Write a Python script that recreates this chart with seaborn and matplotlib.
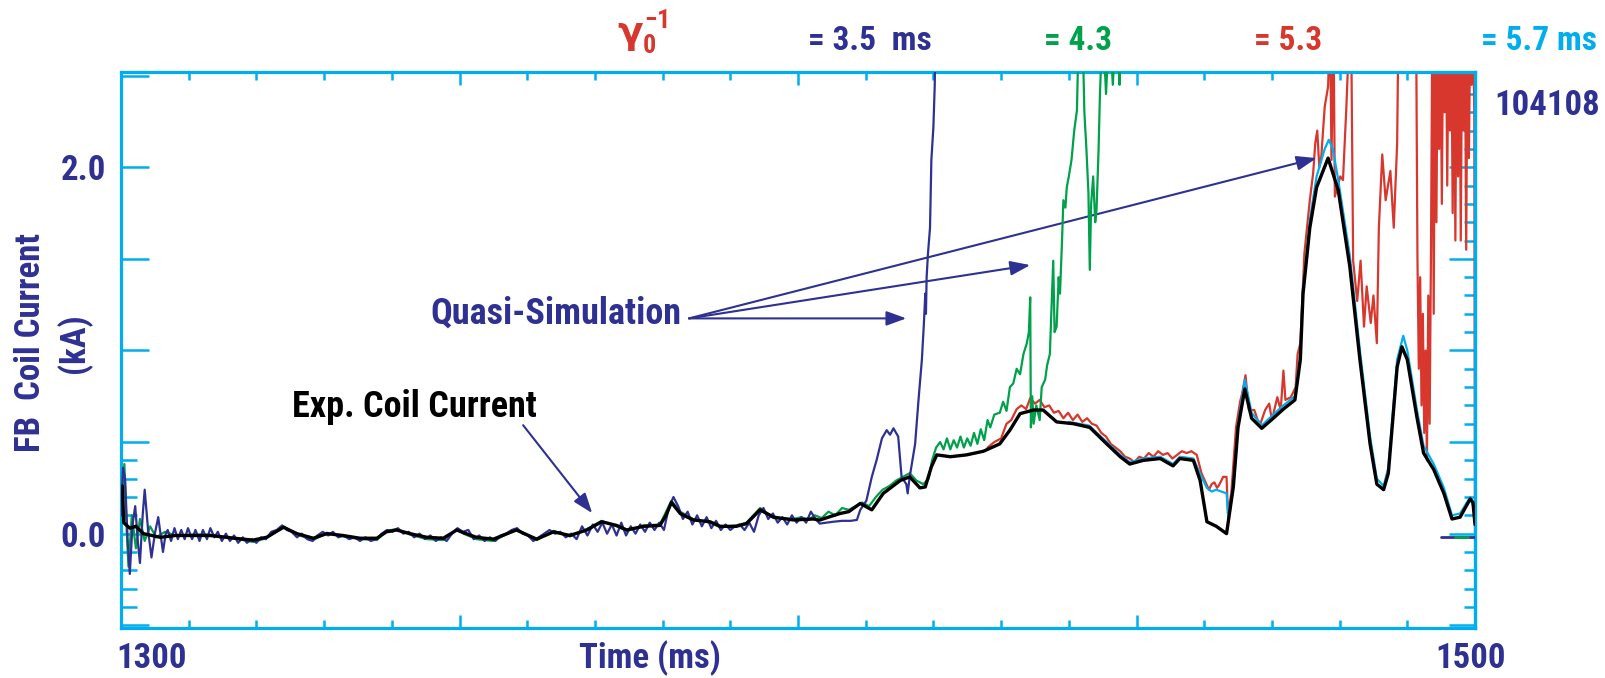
import numpy as np
import pandas as pd
import matplotlib
matplotlib.use("Agg")
import matplotlib.pyplot as plt
from matplotlib.ticker import FixedLocator, MultipleLocator, NullFormatter
import matplotlib.transforms as mtransforms
import seaborn as sns

# ---------------- data ----------------
# Experimental FB coil current (black)
t_exp = [1300.0, 1300.2, 1300.4, 1301.3, 1302.2, 1303.3, 1305.8, 1308.0, 1310.6, 1313.1,
         1315.6, 1318.0, 1319.5, 1321.5, 1324.0, 1326.0, 1328.4, 1330.4, 1332.8, 1335.3,
         1337.8, 1339.2, 1340.7, 1342.7, 1345.2, 1347.6, 1349.6, 1350.6, 1352.5, 1355.0,
         1358.4, 1361.4, 1363.9, 1366.3, 1368.8, 1371.0, 1373.2, 1374.7, 1377.2, 1379.6,
         1380.5, 1381.3, 1382.6, 1384.5, 1387.0, 1388.5, 1390.9, 1392.4, 1394.4, 1396.4,
         1399.3, 1402.3, 1403.2, 1404.5, 1406.2, 1407.5, 1409.2, 1410.9, 1412.6, 1415.1,
         1416.5, 1418.0, 1418.8, 1419.7, 1420.5, 1422.5, 1424.9, 1427.4, 1429.8, 1431.3,
         1432.8, 1434.8, 1436.2, 1438.2, 1440.7, 1443.1, 1445.6, 1447.6, 1449.0, 1451.0,
         1453.5, 1455.4, 1456.4, 1458.4, 1459.4, 1460.4, 1461.8, 1463.3, 1464.3, 1465.0,
         1466.0, 1467.0, 1468.5, 1470.2, 1471.7, 1473.4, 1474.2, 1474.6, 1475.6, 1476.6,
         1478.3, 1479.8, 1481.5, 1483.0, 1484.5, 1485.5, 1486.5, 1487.2, 1488.5, 1489.2,
         1490.0, 1491.4, 1492.4, 1493.9, 1495.4, 1496.6, 1497.8, 1499.3, 1499.7, 1500.0]
i_exp = [0.20, 0.26, 0.06, 0.03, 0.04, 0.00, -0.02, -0.01, -0.01, -0.01,
         -0.02, -0.03, -0.035, -0.02, 0.035, 0.00, -0.025, 0.00, -0.01, -0.025,
         -0.025, 0.01, 0.02, 0.00, -0.02, -0.025, 0.02, 0.005, -0.02, -0.03,
         0.02, -0.03, 0.01, -0.01, 0.02, 0.065, 0.045, 0.02, 0.04, 0.045,
         0.10, 0.17, 0.11, 0.075, 0.065, 0.04, 0.04, 0.055, 0.13, 0.09,
         0.075, 0.08, 0.074, 0.09, 0.11, 0.12, 0.165, 0.13, 0.22, 0.29,
         0.31, 0.25, 0.255, 0.365, 0.43, 0.42, 0.43, 0.45, 0.49, 0.565,
         0.655, 0.675, 0.675, 0.61, 0.60, 0.58, 0.49, 0.42, 0.38, 0.40,
         0.41, 0.37, 0.41, 0.40, 0.29, 0.065, 0.04, 0.00, 0.255, 0.58,
         0.79, 0.63, 0.575, 0.63, 0.68, 0.73, 0.95, 1.31, 1.67, 1.89,
         2.05, 1.875, 1.46, 0.95, 0.49, 0.27, 0.24, 0.33, 0.91, 1.02,
         0.95, 0.64, 0.44, 0.35, 0.22, 0.08, 0.09, 0.19, 0.17, 0.05]

# Quasi-simulation, 1/gamma0 = 3.5 ms (navy)
t_35 = [1300.0, 1300.3, 1300.6, 1301.0, 1301.3, 1301.7, 1302.1, 1302.5, 1302.8, 1303.2,
        1303.5, 1304.0, 1304.5, 1305.0, 1305.5, 1305.9, 1306.2, 1306.6, 1306.9, 1307.4,
        1307.9, 1308.4, 1308.9, 1309.4, 1309.9, 1310.5, 1311.0, 1311.6, 1312.1, 1312.7,
        1313.2, 1313.8, 1314.3, 1314.9, 1315.5, 1316.1, 1316.7, 1317.3, 1318.0, 1318.6,
        1319.3, 1320.0, 1320.7, 1321.4, 1322.2, 1323.0, 1323.8, 1324.5, 1325.2, 1326.0,
        1326.7, 1327.5, 1328.3, 1329.0, 1329.8, 1330.6, 1331.3, 1332.1, 1332.9, 1333.7,
        1334.5, 1335.3, 1336.1, 1336.9, 1337.7, 1338.5, 1339.3, 1340.1, 1340.9, 1341.7,
        1342.5, 1343.3, 1344.1, 1344.9, 1345.7, 1346.5, 1347.3, 1348.1, 1348.9, 1349.7,
        1350.5, 1351.3, 1352.1, 1352.9, 1353.7, 1354.5, 1355.3, 1356.1, 1356.9, 1357.7,
        1358.5, 1359.3, 1360.1, 1360.9, 1361.7, 1362.5, 1363.3, 1364.1, 1364.9, 1365.7,
        1366.5, 1367.3, 1368.1, 1368.9, 1369.7, 1370.4, 1371.1, 1371.8, 1372.5, 1373.2,
        1373.9, 1374.6, 1375.3, 1376.0, 1376.7, 1377.4, 1378.1, 1378.8, 1379.5, 1380.2,
        1380.9, 1381.6, 1382.3, 1383.0, 1383.7, 1384.4, 1385.1, 1385.8, 1386.5, 1387.2,
        1387.9, 1388.6, 1389.3, 1390.0, 1390.7, 1391.4, 1392.1, 1392.8, 1393.5, 1394.2,
        1394.9, 1395.6, 1396.3, 1397.0, 1397.7, 1398.4, 1399.1, 1399.8, 1400.5, 1401.2,
        1401.9, 1402.6, 1403.2, 1404.2, 1405.2, 1406.5, 1407.8, 1408.7, 1409.2, 1410.1,
        1410.9, 1411.6, 1412.4, 1413.1, 1413.6, 1414.1, 1414.8, 1415.3, 1416.0, 1416.2,
        1416.5, 1417.3, 1417.8, 1418.3, 1418.6, 1418.8, 1418.9, 1419.0, 1419.2, 1419.5,
        1419.7, 1420.0, 1420.2, 1420.3]
i_35 = [0.10, 0.36, 0.30, -0.05, -0.22, 0.05, 0.15, -0.05, -0.16, 0.10,
        0.24, 0.02, -0.13, 0.00, 0.09, -0.02, -0.10, 0.00, 0.02, -0.04,
        0.03, -0.03, 0.02, -0.03, 0.03, -0.03, 0.02, -0.04, 0.02, -0.03,
        0.03, -0.02, 0.01, -0.04, 0.00, -0.04, -0.01, -0.05, -0.02, -0.05,
        -0.03, -0.05, -0.02, -0.03, 0.01, 0.02, 0.045, 0.02, 0.01, -0.02,
        0.00, -0.03, -0.04, -0.01, 0.01, -0.01, 0.01, -0.02, -0.01, -0.03,
        -0.02, -0.04, -0.02, -0.04, -0.03, 0.00, 0.02, 0.01, 0.03, 0.00,
        0.01, -0.02, 0.00, -0.03, -0.01, -0.04, -0.02, -0.04, 0.00, 0.03,
        0.01, 0.02, -0.03, -0.01, -0.04, -0.02, -0.04, -0.01, 0.00, 0.02,
        0.03, 0.00, -0.01, -0.04, -0.02, 0.00, 0.02, 0.00, 0.01, -0.02,
        0.00, -0.03, 0.04, -0.01, 0.05, 0.01, 0.06, 0.00, 0.05, -0.01,
        0.06, -0.01, 0.04, 0.00, 0.05, 0.01, 0.06, 0.02, 0.06, 0.02,
        0.14, 0.20, 0.15, 0.08, 0.12, 0.05, 0.10, 0.04, 0.09, 0.03,
        0.07, 0.02, 0.05, 0.02, 0.04, 0.05, 0.02, 0.06, 0.01, 0.10,
        0.14, 0.08, 0.11, 0.06, 0.09, 0.05, 0.10, 0.06, 0.09, 0.06,
        0.12, 0.08, 0.055, 0.06, 0.065, 0.07, 0.07, 0.075, 0.13, 0.18,
        0.31, 0.40, 0.52, 0.565, 0.54, 0.575, 0.53, 0.31, 0.27, 0.22,
        0.31, 0.49, 0.73, 0.95, 1.15, 1.31, 1.20, 1.40, 1.53, 1.67,
        2.04, 2.22, 2.45, 2.80]
# stored tail of the 3.5 ms run (flat at zero near 1500 ms)
t_35_tail = [1495.0, 1500.0]
i_35_tail = [-0.017, -0.017]

# Quasi-simulation, 1/gamma0 = 4.3 ms (green)
t_43 = [1300.0, 1300.5, 1300.8, 1301.1, 1301.6, 1302.2, 1302.8, 1303.5, 1304.3, 1305.2,
        1306.5, 1308.0, 1310.6, 1313.1, 1315.6, 1318.0, 1319.5, 1321.5, 1324.0, 1326.0,
        1328.4, 1330.4, 1332.8, 1335.3, 1337.8, 1339.2, 1340.7, 1342.7, 1345.2, 1347.6,
        1349.6, 1350.6, 1352.5, 1355.0, 1358.4, 1361.4, 1363.9, 1366.3, 1368.8, 1371.0,
        1373.2, 1374.7, 1377.2, 1379.6, 1381.3, 1382.6, 1384.5, 1387.0, 1388.5, 1390.9,
        1392.4, 1394.4, 1396.4, 1399.3, 1400.5, 1401.5, 1402.5, 1403.5, 1404.5, 1405.5,
        1406.5, 1407.5, 1408.5, 1409.5, 1410.5, 1411.5, 1412.5, 1413.5, 1414.5, 1415.5,
        1416.5, 1417.5, 1418.5, 1419.3, 1419.8, 1420.4, 1421.0, 1421.5, 1422.0, 1422.5,
        1423.0, 1423.5, 1424.0, 1424.5, 1425.0, 1425.5, 1426.0, 1426.5, 1427.0, 1427.5,
        1428.0, 1428.4, 1429.0, 1429.8, 1430.3, 1430.8, 1431.3, 1431.8, 1432.3, 1432.8,
        1433.3, 1433.8, 1434.1, 1434.3, 1434.4, 1434.6, 1434.8, 1435.2, 1435.7, 1436.0,
        1436.5, 1436.8, 1437.2, 1437.5, 1437.7, 1437.9, 1438.2, 1438.5, 1438.7, 1439.0,
        1439.2, 1439.5, 1439.7, 1440.0, 1440.4, 1440.8, 1441.2, 1441.5, 1442.0, 1442.3,
        1442.6, 1442.9, 1443.1, 1443.3, 1443.6, 1443.9, 1444.1, 1444.4, 1444.6, 1445.0,
        1445.5, 1446.0, 1446.5, 1447.0, 1447.5, 1447.6]
i_43 = [0.15, 0.38, 0.05, -0.18, 0.10, -0.08, 0.08, -0.04, 0.04, -0.02,
        0.01, -0.01, -0.005, -0.005, -0.02, -0.035, -0.045, -0.025, 0.04, -0.005,
        -0.035, 0.005, -0.015, -0.03, -0.035, 0.015, 0.025, -0.005, -0.03, -0.035,
        0.025, 0.0, -0.03, -0.04, 0.025, -0.035, 0.015, -0.015, 0.025, 0.07,
        0.04, 0.015, 0.045, 0.05, 0.18, 0.12, 0.08, 0.06, 0.035, 0.045,
        0.06, 0.14, 0.085, 0.08, 0.09, 0.075, 0.10, 0.085, 0.12, 0.10,
        0.14, 0.13, 0.15, 0.17, 0.15, 0.20, 0.24, 0.26, 0.29, 0.31,
        0.33, 0.29, 0.27, 0.30, 0.40, 0.47, 0.50, 0.46, 0.52, 0.46,
        0.51, 0.47, 0.53, 0.47, 0.52, 0.48, 0.55, 0.49, 0.57, 0.51,
        0.62, 0.58, 0.65, 0.66, 0.72, 0.67, 0.80, 0.82, 0.90, 0.87,
        0.98, 1.04, 1.10, 1.29, 0.58, 0.75, 0.60, 0.70, 0.62, 0.80,
        0.84, 0.92, 0.98, 1.28, 1.49, 1.10, 1.13, 1.40, 1.31, 1.60,
        1.82, 1.78, 1.89, 1.95, 2.04, 2.20, 2.31, 2.80, 2.80, 2.30,
        2.10, 1.86, 1.44, 1.80, 1.95, 1.70, 1.77, 2.10, 2.40, 2.80,
        2.40, 2.80, 2.45, 2.80, 2.45, 2.55]
t_43_tail = [1497.0, 1498.9]
i_43_tail = [-0.017, -0.017]

# Quasi-simulation, 1/gamma0 = 5.3 ms (red)
t_53 = [1428.0, 1429.0, 1430.0, 1430.8, 1431.5, 1432.3, 1433.0, 1433.7, 1434.3, 1435.0,
        1435.7, 1436.4, 1437.1, 1437.8, 1438.5, 1439.2, 1439.9, 1440.6, 1441.3, 1442.0,
        1442.7, 1443.4, 1444.1, 1444.8, 1445.5, 1446.2, 1446.9, 1447.6, 1448.3, 1449.0,
        1449.7, 1450.4, 1451.1, 1451.8, 1452.5, 1453.2, 1453.9, 1454.6, 1455.3, 1456.0,
        1456.7, 1457.4, 1458.1, 1458.9, 1459.6, 1460.7, 1461.1, 1461.5, 1461.9, 1462.2,
        1462.8, 1463.3, 1463.5, 1464.0, 1464.7, 1465.3, 1465.6, 1466.1, 1466.6, 1467.4,
        1467.9, 1468.3, 1469.0, 1469.6, 1470.0, 1470.8, 1471.3, 1471.7, 1472.0, 1472.8,
        1473.5, 1473.8, 1474.2, 1474.8, 1475.6, 1476.1, 1476.4, 1476.7, 1477.0, 1477.3,
        1477.8, 1478.3, 1478.6, 1478.8, 1479.1, 1479.3, 1480.1, 1480.5, 1481.0, 1481.5,
        1481.7, 1482.0, 1482.6, 1483.1, 1483.6, 1484.0, 1484.6, 1485.0, 1485.5, 1485.8,
        1486.3, 1486.8, 1487.5, 1488.0, 1488.5, 1488.7, 1491.3, 1491.5, 1491.7, 1491.9,
        1492.1, 1492.3, 1492.5, 1492.7, 1492.9, 1493.1, 1493.3, 1493.5, 1493.7, 1493.9,
        1494.1, 1494.3, 1494.5, 1494.7, 1494.9, 1495.1, 1495.3, 1495.5, 1495.7, 1495.9,
        1496.1, 1496.3, 1496.5, 1496.7, 1496.9, 1497.1, 1497.3, 1497.5, 1497.7, 1497.9,
        1498.1, 1498.3, 1498.5, 1498.7, 1498.9, 1499.1, 1499.3, 1499.5, 1499.7, 1499.9,
        1500.0]
i_53 = [0.47, 0.50, 0.52, 0.60, 0.62, 0.68, 0.70, 0.68, 0.74, 0.71,
        0.73, 0.69, 0.70, 0.66, 0.67, 0.63, 0.66, 0.62, 0.65, 0.61,
        0.63, 0.60, 0.59, 0.55, 0.53, 0.49, 0.47, 0.45, 0.42, 0.41,
        0.39, 0.42, 0.41, 0.44, 0.42, 0.45, 0.43, 0.44, 0.41, 0.43,
        0.45, 0.44, 0.45, 0.43, 0.33, 0.24, 0.27, 0.28, 0.25, 0.265,
        0.31, 0.31, 0.11, 0.22, 0.58, 0.72, 0.765, 0.865, 0.675, 0.675,
        0.62, 0.60, 0.675, 0.71, 0.62, 0.745, 0.675, 0.89, 0.73, 0.745,
        0.80, 0.98, 1.04, 1.53, 1.82, 1.97, 2.13, 2.20, 2.00, 2.06,
        2.33, 2.44, 2.80, 2.04, 2.80, 1.84, 1.95, 1.93, 2.33, 2.80,
        2.80, 1.49, 1.27, 1.49, 1.13, 1.35, 1.15, 1.30, 1.04, 1.67,
        2.07, 1.82, 1.98, 1.67, 2.13, 2.80, 2.80, 1.50, 0.90, 1.40,
        0.70, 1.20, 0.55, 1.00, 0.40, 1.30, 0.60, 1.55, 2.80, 1.20,
        2.80, 1.70, 2.80, 2.10, 2.80, 1.80, 2.80, 2.30, 2.80, 1.90,
        2.80, 2.20, 2.80, 1.75, 2.80, 1.60, 2.80, 1.95, 2.80, 1.60,
        2.80, 2.20, 2.80, 1.55, 2.80, 2.05, 2.80, 2.45, 2.80, 2.30,
        0.00]

# Quasi-simulation, 1/gamma0 = 5.7 ms (cyan)
t_57 = [1440.0, 1443.0, 1445.6, 1447.6, 1449.0, 1451.0, 1453.5, 1455.4, 1456.4, 1458.4,
        1459.6, 1460.4, 1461.1, 1461.8, 1462.5, 1463.3, 1463.6, 1464.3, 1465.0, 1466.0,
        1467.0, 1468.5, 1470.2, 1471.7, 1473.4, 1474.2, 1474.6, 1475.6, 1476.6, 1477.8,
        1478.4, 1479.0, 1479.8, 1481.5, 1483.0, 1484.5, 1485.5, 1486.5, 1487.2, 1488.5,
        1489.4, 1490.0, 1491.4, 1492.4, 1493.9, 1495.4, 1496.6, 1497.8, 1499.3, 1500.0]
i_57 = [0.61, 0.59, 0.50, 0.43, 0.39, 0.41, 0.42, 0.38, 0.42, 0.41,
        0.31, 0.25, 0.23, 0.24, 0.23, 0.22, 0.08, 0.27, 0.60, 0.84,
        0.66, 0.59, 0.65, 0.70, 0.75, 0.98, 1.34, 1.71, 1.95, 2.10,
        2.15, 2.10, 1.93, 1.52, 1.00, 0.53, 0.30, 0.26, 0.36, 0.95,
        1.08, 1.00, 0.68, 0.48, 0.38, 0.25, 0.10, 0.11, 0.20, 0.12]

# axis / text labels
x_ticklabels = ["1300", "1500"]
y_ticklabels = ["0.0", "2.0"]
gamma_label = r"$\gamma_{0}^{-1}$"
top_labels = ["= 3.5  ms", "= 4.3", "= 5.3", "= 5.7 ms"]
shot_label = "104108"

# ---------------- style ----------------
NAVY = "#2E3192"
GREEN = "#00A14B"
RED = "#D7372D"
CYAN = "#00AEEF"

sns.set_theme(style="white")
plt.rcParams["font.family"] = ["Roboto Condensed", "DejaVu Sans"]
plt.rcParams["font.weight"] = "bold"
plt.rcParams["mathtext.fontset"] = "custom"
plt.rcParams["mathtext.rm"] = "Roboto Condensed:bold"
plt.rcParams["mathtext.it"] = "DejaVu Sans"
plt.rcParams["mathtext.bf"] = "Roboto Condensed:bold"

W, H = 1606, 678
fig = plt.figure(figsize=(W / 100, H / 100), dpi=100)
L, R, T, B = 121, 1475, 72, 628
ax = fig.add_axes([L / W, 1 - B / H, (R - L) / W, (B - T) / H])


def frame(t, v, seg):
    return pd.DataFrame({"t": t, "i": v, "seg": seg})


def draw(df, color, lw, z):
    sns.lineplot(data=df, x="t", y="i", units="seg", estimator=None, sort=False,
                 color=color, linewidth=lw, ax=ax, legend=False, zorder=z)


draw(frame(t_53, i_53, 0), RED, 1.6, 2)
draw(frame(t_57, i_57, 0), CYAN, 1.6, 3)
draw(frame(t_43, i_43, 0), GREEN, 1.6, 4)
draw(frame(t_35, i_35, 0), NAVY, 1.6, 5)
draw(frame(t_35_tail, i_35_tail, 1), NAVY, 2.0, 5)
draw(frame(t_43_tail, i_43_tail, 1), GREEN, 2.0, 5.5)
draw(frame(t_exp, i_exp, 0), "black", 2.4, 6)

ax.set_xlim(1300, 1500)
ax.set_ylim(-0.515, 2.52)
ax.set_xlabel("")
ax.set_ylabel("")

for s in ax.spines.values():
    s.set_visible(True)
    s.set_color(CYAN)
    s.set_linewidth(2.3)

# x ticks
ax.xaxis.set_major_locator(MultipleLocator(50))
ax.xaxis.set_minor_locator(MultipleLocator(10))
ax.tick_params(axis="x", which="major", direction="in", length=9.5, width=1.8,
               color=CYAN, top=True, bottom=True, labelbottom=False)
ax.tick_params(axis="x", which="minor", direction="in", length=6, width=1.8,
               color=CYAN, top=True, bottom=True)
# left y ticks
ax.yaxis.set_major_locator(MultipleLocator(0.5))
ax.yaxis.set_minor_locator(FixedLocator([-0.4, -0.3, -0.2, -0.1, 0.1, 0.2, 0.3, 0.4]))
ax.tick_params(axis="y", which="major", direction="in", length=20, width=1.8,
               color=CYAN, left=True, right=False, labelleft=False)
ax.tick_params(axis="y", which="minor", direction="in", length=11.5, width=1.8,
               color=CYAN, left=True, right=False)
# right y ticks
sec = ax.secondary_yaxis("right")
sec.set_zorder(0)
sec.yaxis.set_major_locator(MultipleLocator(0.5))
sec.yaxis.set_minor_locator(MultipleLocator(0.1))
sec.yaxis.set_major_formatter(NullFormatter())
sec.tick_params(axis="y", which="major", direction="in", length=18.5, width=1.8, color=CYAN)
sec.tick_params(axis="y", which="minor", direction="in", length=8, width=1.8, color=CYAN)
sec.spines["right"].set_color(CYAN)
sec.spines["right"].set_linewidth(2.3)

FS = 25
# tick labels
xtr = mtransforms.blended_transform_factory(ax.transData, ax.transAxes)
ax.text(1299.3, -0.072, x_ticklabels[0], transform=xtr, ha="left", va="baseline",
        color=NAVY, fontsize=FS, fontweight="bold")
ax.text(1499.3, -0.072, x_ticklabels[1], transform=xtr, ha="center", va="baseline",
        color=NAVY, fontsize=FS, fontweight="bold")
ytr = mtransforms.blended_transform_factory(ax.transAxes, ax.transData)
ax.text(-0.011, 0.0, y_ticklabels[0], transform=ytr, ha="right", va="center_baseline",
        color=NAVY, fontsize=FS, fontweight="bold")
ax.text(-0.011, 2.0, y_ticklabels[1], transform=ytr, ha="right", va="center_baseline",
        color=NAVY, fontsize=FS, fontweight="bold")

# axis titles
fig.text(650 / W, 1 - 668 / H, "Time (ms)", ha="center", va="baseline",
         color=NAVY, fontsize=FS, fontweight="bold")
fig.text(53 / W, 1 - 343 / H, "FB  Coil Current\n(kA)", rotation=90, ha="center",
         va="center", multialignment="center", linespacing=1.32,
         color=NAVY, fontsize=25, fontweight="bold")

# top labels
fig.text(643 / W, 1 - 43 / H, gamma_label, ha="center", va="baseline", color=RED,
         fontsize=27)
top_x = [870, 1078, 1288, 1539]
top_c = [NAVY, GREEN, RED, CYAN]
for lab, xx, cc in zip(top_labels, top_x, top_c):
    fig.text(xx / W, 1 - 50 / H, lab, ha="center", va="baseline", color=cc,
             fontsize=24, fontweight="bold")
fig.text(1547 / W, 1 - 115 / H, shot_label, ha="center", va="baseline",
         color=NAVY, fontsize=FS, fontweight="bold")

# annotations
arrow = dict(arrowstyle="-|>,head_length=0.55,head_width=0.2", color=NAVY, lw=1.5,
             shrinkA=0, shrinkB=0, mutation_scale=22)
ax.text(1364.3, 1.149, "Quasi-Simulation", ha="center", va="baseline",
        color=NAVY, fontsize=26, fontweight="bold")
for hx, hy in [(1416.0, 1.175), (1434.3, 1.466), (1476.6, 2.05)]:
    ax.annotate("", xy=(hx, hy), xytext=(1383.9, 1.175), arrowprops=arrow)
ax.text(1343.3, 0.636, "Exp. Coil Current", ha="center", va="baseline",
        color="black", fontsize=26, fontweight="bold")
ax.annotate("", xy=(1369.6, 0.112), xytext=(1359.4, 0.592), arrowprops=arrow)

fig.savefig("out.png", dpi=100)
